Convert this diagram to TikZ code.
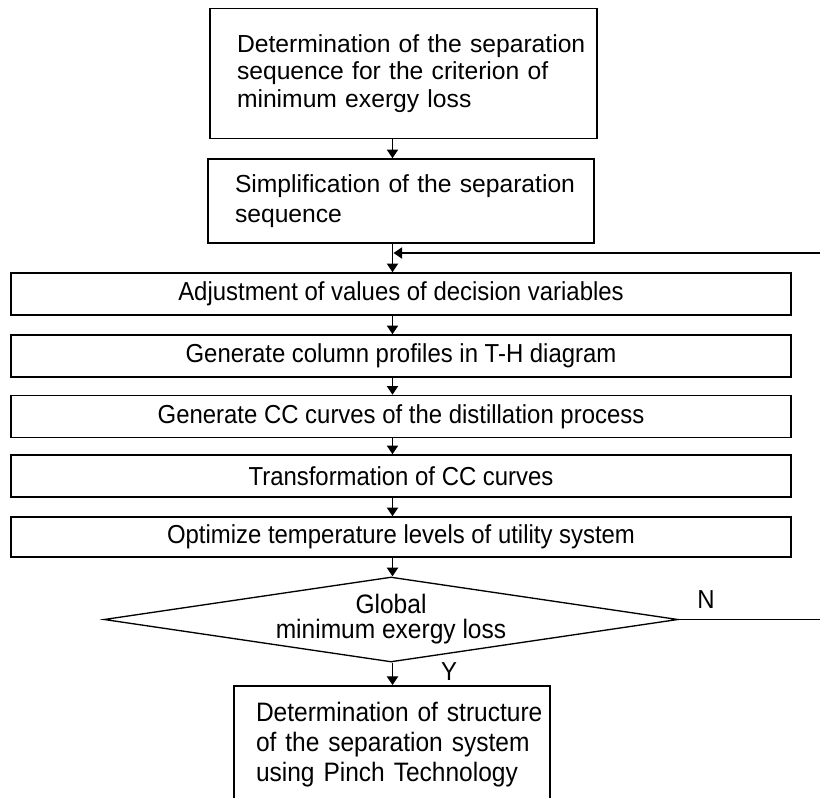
\documentclass[tikz,border=0pt]{standalone}
\usepackage{fontspec}
\setmainfont{Liberation Sans}
\newfontfamily\narrowfont[FakeStretch=0.92]{Liberation Sans}
\usetikzlibrary{shapes.geometric,arrows.meta}
\begin{document}
\begin{tikzpicture}[x=0.75pt,y=-0.75pt,
  box/.style={draw=black,line width=1.2pt,align=left,inner ysep=0pt},
  wide/.style={draw=black,line width=1.2pt,minimum width=585pt,minimum height=31.5pt,inner sep=0pt,font=\narrowfont\fontsize{19.5}{21}\selectfont},
  conn/.style={line width=0.8pt,-{Triangle[width=8.5pt,length=6.5pt]}},
  lbl/.style={inner sep=0pt,font=\narrowfont\fontsize{19.5}{21}\selectfont}]
\useasboundingbox (0,0) rectangle (820,798);
\clip (0,0) rectangle (820,798);

\node[box, inner xsep=20.25pt, text width=249.75pt, minimum height=97.5pt, font=\fontsize{18.5}{20.6}\selectfont] (b1) at (403.5,73.5)
  {\mbox{Determination of the separation}\\\mbox{sequence for the criterion of}\\minimum exergy loss};
\node[box, inner xsep=20.25pt, text width=249pt, minimum height=63pt, font=\fontsize{18.5}{22.5}\selectfont] (b2) at (401,201)
  {\mbox{Simplification of the separation}\\sequence};

\node[wide] (b3) at (401,294) {Adjustment of values of decision variables};
\node[wide] (b4) at (401,356) {Generate column profiles in T-H diagram};
\node[wide] (b5) at (401,416.5) {Generate CC curves of the distillation process};
\node[wide] (b6) at (401,476) {Transformation of CC curves};
\node[wide, minimum height=30pt] (b7) at (401,537) {Optimize temperature levels of utility system};

\node[draw=black, diamond, line width=1pt, minimum width=430.5pt, minimum height=63.75pt, inner sep=0pt,
  align=center, font=\narrowfont\fontsize{20}{18.75}\selectfont] (d) at (391,619.5)
  {\makebox[0pt]{Global}\\\makebox[0pt]{minimum exergy loss}};

\node[box, anchor=north, inner xsep=16.5pt, text width=204pt, inner ysep=12pt, text depth=95pt,
  font=\narrowfont\fontsize{20}{22.5}\selectfont] (b8) at (392,685)
  {\mbox{Determination of structure}\\\mbox{of the separation system}\\\mbox{using Pinch Technology}};

\node[lbl] (n) at (706,600) {N};
\node[lbl] (y) at (449,672) {Y};

\coordinate (col) at (392.5,0);
\coordinate (fr) at (826,253);
\coordinate (fj) at (393.5,253);

\draw[conn] (b1.south -| col) -- (b2.north -| col);
\draw[conn] (b2.south -| col) -- (b3.north -| col);
\draw[conn] (b3.south -| col) -- (b4.north -| col);
\draw[conn] (b4.south -| col) -- (b5.north -| col);
\draw[conn] (b5.south -| col) -- (b6.north -| col);
\draw[conn] (b6.south -| col) -- (b7.north -| col);
\draw[conn] (b7.south -| col) -- (d.north -| col);
\draw[conn] (d.south -| col) -- (b8.north -| col);
\draw[conn] (d.east) -- (d.east -| fr) -- (fr) -- (fj);
\end{tikzpicture}
\end{document}
